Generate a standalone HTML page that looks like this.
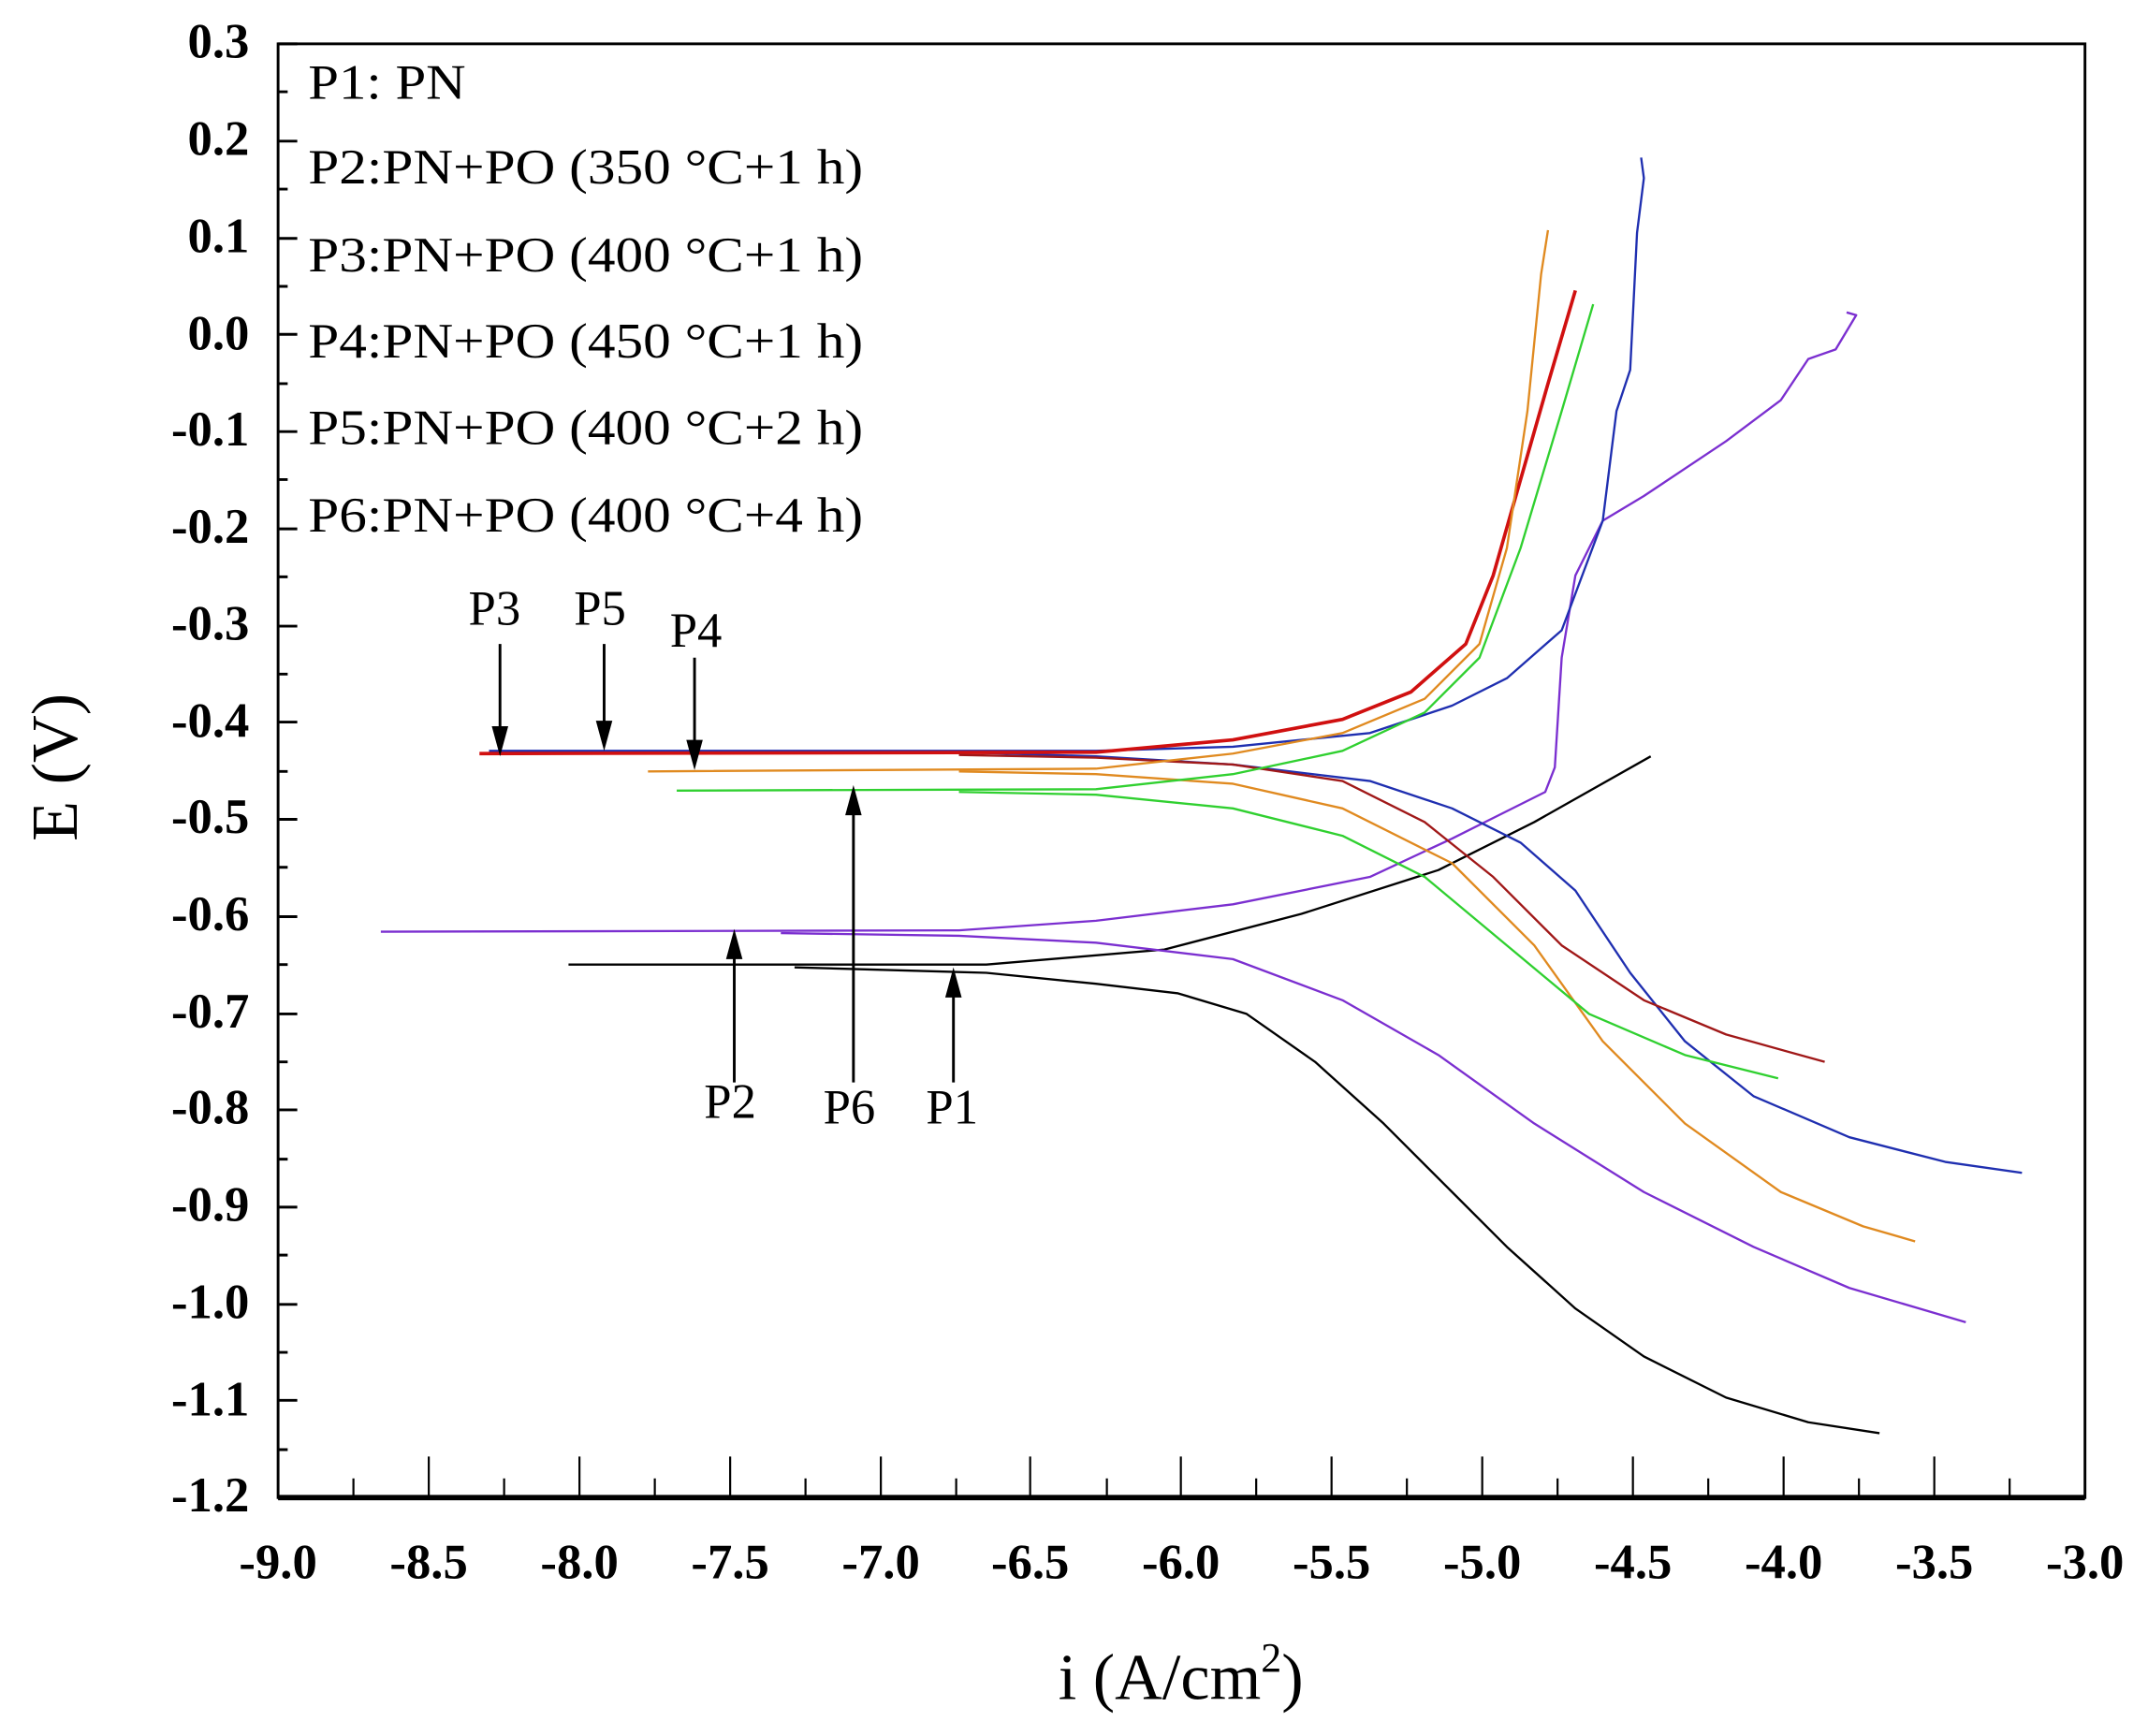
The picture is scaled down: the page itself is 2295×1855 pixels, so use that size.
<!DOCTYPE html>
<html><head><meta charset="utf-8"><style>html,body{margin:0;padding:0;background:#fff}svg{display:block}</style></head>
<body>
<svg width="2295" height="1855" viewBox="0 0 1568 1267" preserveAspectRatio="none" xmlns="http://www.w3.org/2000/svg">
<rect width="1568" height="1267" fill="#fff"/>
<g stroke="#000" fill="none">
<rect x="203" y="32" width="1319" height="1061" stroke-width="2"/>
<line x1="203" y1="1093" x2="1522" y2="1093" stroke-width="4"/>
<path stroke-width="2" d="M203 32h14M203 67h7M203 103h14M203 138h7M203 174h14M203 209h7M203 244h14M203 280h7M203 315h14M203 350h7M203 386h14M203 421h7M203 457h14M203 492h7M203 527h14M203 563h7M203 598h14M203 633h7M203 669h14M203 704h7M203 740h14M203 775h7M203 810h14M203 846h7M203 881h14M203 916h7M203 952h14M203 987h7M203 1022h14M203 1058h7"/>
<path stroke-width="1.5" d="M313 1093v-30M423 1093v-30M533 1093v-30M643 1093v-30M752 1093v-30M862 1093v-30M972 1093v-30M1082 1093v-30M1192 1093v-30M1302 1093v-30M1412 1093v-30M258 1093v-14M368 1093v-14M478 1093v-14M588 1093v-14M698 1093v-14M808 1093v-14M917 1093v-14M1027 1093v-14M1137 1093v-14M1247 1093v-14M1357 1093v-14M1467 1093v-14"/>
</g>
<g font-family="Liberation Serif, serif" font-weight="bold" font-size="36" text-anchor="end">
<text x="182" y="42">0.3</text><text x="182" y="113">0.2</text><text x="182" y="184">0.1</text><text x="182" y="255">0.0</text><text x="182" y="325">-0.1</text><text x="182" y="396">-0.2</text><text x="182" y="467">-0.3</text><text x="182" y="538">-0.4</text><text x="182" y="608">-0.5</text><text x="182" y="679">-0.6</text><text x="182" y="750">-0.7</text><text x="182" y="820">-0.8</text><text x="182" y="891">-0.9</text><text x="182" y="962">-1.0</text><text x="182" y="1033">-1.1</text><text x="182" y="1103">-1.2</text>
</g>
<g font-family="Liberation Serif, serif" font-weight="bold" font-size="36" text-anchor="middle">
<text x="203" y="1152">-9.0</text><text x="313" y="1152">-8.5</text><text x="423" y="1152">-8.0</text><text x="533" y="1152">-7.5</text><text x="643" y="1152">-7.0</text><text x="752" y="1152">-6.5</text><text x="862" y="1152">-6.0</text><text x="972" y="1152">-5.5</text><text x="1082" y="1152">-5.0</text><text x="1192" y="1152">-4.5</text><text x="1302" y="1152">-4.0</text><text x="1412" y="1152">-3.5</text><text x="1522" y="1152">-3.0</text>
</g>
<text x="862" y="1240" font-family="Liberation Serif, serif" font-size="48" text-anchor="middle">i (A/cm<tspan dy="-20" font-size="30">2</tspan><tspan dy="20">)</tspan></text>
<text transform="translate(56,560) rotate(-90)" font-family="Liberation Serif, serif" font-size="48" text-anchor="middle">E (V)</text>
<g font-family="Liberation Serif, serif" font-size="36">
<text x="225" y="72" textLength="115" lengthAdjust="spacingAndGlyphs">P1: PN</text>
<text x="225" y="134" textLength="405" lengthAdjust="spacingAndGlyphs">P2:PN+PO (350 °C+1 h)</text>
<text x="225" y="198" textLength="405" lengthAdjust="spacingAndGlyphs">P3:PN+PO (400 °C+1 h)</text>
<text x="225" y="261" textLength="405" lengthAdjust="spacingAndGlyphs">P4:PN+PO (450 °C+1 h)</text>
<text x="225" y="324" textLength="405" lengthAdjust="spacingAndGlyphs">P5:PN+PO (400 °C+2 h)</text>
<text x="225" y="388" textLength="405" lengthAdjust="spacingAndGlyphs">P6:PN+PO (400 °C+4 h)</text>
</g>
<g fill="none" stroke-width="1.6" stroke-linejoin="round">
<polyline stroke="#000" points="415,704 720,704 850,693 950,667 1050,635 1120,600 1205,552"/>
<polyline stroke="#000" points="580,706 720,710 800,718 860,725 910,740 960,775 1010,820 1060,870 1100,910 1150,955 1200,990 1260,1020 1320,1038 1372,1046"/>
<polyline stroke="#7b2fd0" points="278,680 700,679 800,672 900,660 1000,640 1060,612 1100,592 1128,578 1135,560 1140,480 1150,420 1170,380 1200,362 1260,322 1300,292 1320,262 1340,255 1355,230 1348,228"/>
<polyline stroke="#7b2fd0" points="570,681 700,683 800,688 900,700 980,730 1050,770 1120,820 1200,870 1280,910 1350,940 1435,965"/>
<polyline stroke="#1f2fb0" points="357,548 800,548 900,545 1000,535 1060,515 1100,495 1140,460 1170,380 1180,300 1190,270 1195,170 1200,130 1198,115"/>
<polyline stroke="#1f2fb0" points="700,549 800,552 900,558 1000,570 1060,590 1110,615 1150,650 1190,710 1230,760 1280,800 1350,830 1420,848 1476,856"/>
<polyline stroke="#d01010" stroke-width="2.5" points="350,550 800,549 900,540 980,525 1030,505 1070,470 1090,420 1110,350 1130,280 1150,212"/>
<polyline stroke="#a01818" points="700,551 800,553 900,558 980,570 1040,600 1090,640 1140,690 1200,730 1260,755 1332,775"/>
<polyline stroke="#e08a20" points="473,563 800,561 900,550 980,535 1040,510 1080,470 1100,400 1115,300 1125,200 1130,168"/>
<polyline stroke="#e08a20" points="700,563 800,565 900,572 980,590 1060,630 1120,690 1170,760 1230,820 1300,870 1360,895 1398,906"/>
<polyline stroke="#30d030" points="494,577 800,576 900,565 980,548 1040,520 1080,480 1110,400 1140,300 1163,222"/>
<polyline stroke="#30d030" points="700,578 800,580 900,590 980,610 1040,640 1100,690 1160,740 1230,770 1298,787"/>
</g>
<g stroke="#000" stroke-width="2" fill="none">
<line x1="365" y1="470" x2="365" y2="540"/><line x1="441" y1="470" x2="441" y2="536"/><line x1="507" y1="480" x2="507" y2="548"/>
<line x1="536" y1="790" x2="536" y2="692"/><line x1="623" y1="790" x2="623" y2="586"/><line x1="696" y1="790" x2="696" y2="720"/>
</g>
<g fill="#000">
<polygon points="359,530 371,530 365,552"/><polygon points="435,526 447,526 441,548"/><polygon points="501,540 513,540 507,562"/>
<polygon points="530,700 542,700 536,678"/><polygon points="617,595 629,595 623,573"/><polygon points="690,728 702,728 696,706"/>
</g>
<g font-family="Liberation Serif, serif" font-size="36" text-anchor="middle">
<text x="361" y="456">P3</text><text x="438" y="456">P5</text><text x="508" y="472">P4</text>
<text x="533" y="816">P2</text><text x="620" y="820">P6</text><text x="695" y="820">P1</text>
</g>
</svg>
</body></html>
